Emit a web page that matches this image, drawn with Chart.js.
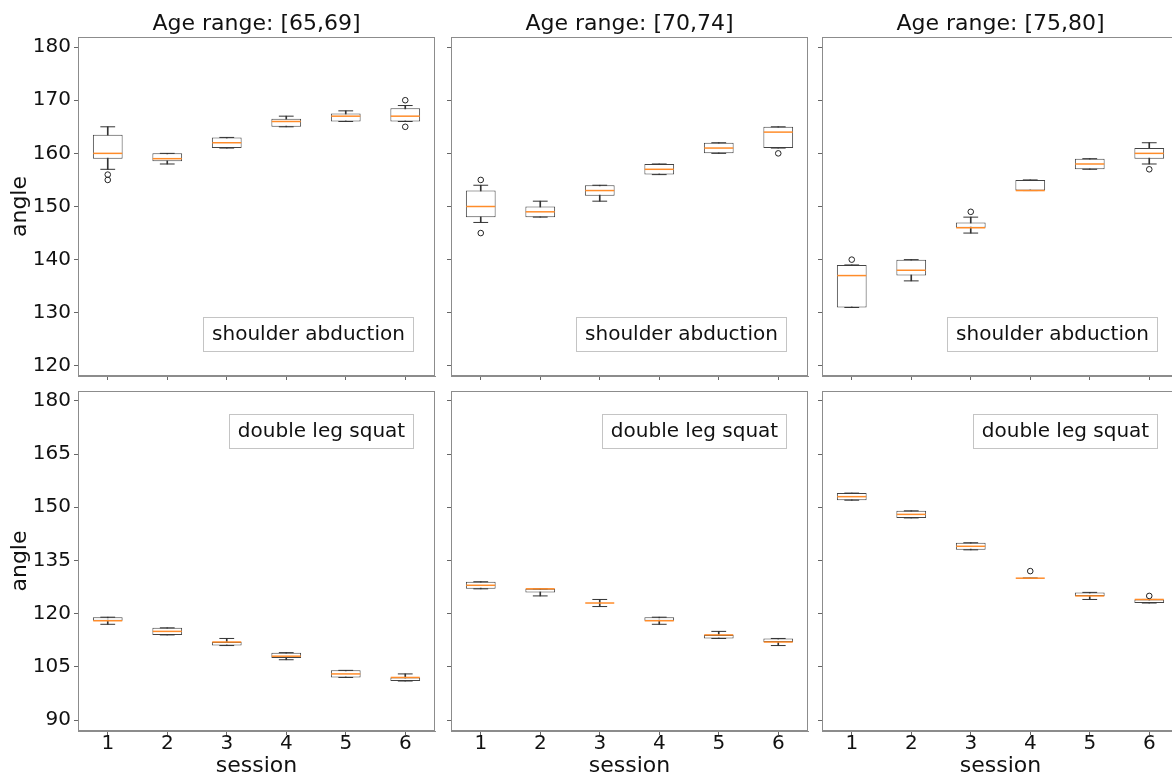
<!DOCTYPE html>
<html>
<head>
<meta charset="utf-8">
<script src="https://cdn.jsdelivr.net/npm/chart.js@4.4.1/dist/chart.umd.min.js"></script>
<style>
html,body{margin:0;padding:0;background:#fff;overflow:hidden;}
#wrap{position:relative;width:1172px;height:778px;overflow:hidden;background:#fff;}
#wrap canvas{position:absolute;}
</style>
</head>
<body>
<div id="wrap"></div>
<script>
// ---------------- data ----------------
const sessions = [1, 2, 3, 4, 5, 6];
const ageRanges = ['[65,69]', '[70,74]', '[75,80]'];
const exercises = ['shoulder abduction', 'double leg squat'];
const yTicksShoulder = [120, 130, 140, 150, 160, 170, 180];
const yTicksSquat = [90, 105, 120, 135, 150, 165, 180];

// shoulder abduction, age 65-69
const sa1Low  = [157, 158, 161, 165, 166, 166];
const sa1Q1   = [159, 158.5, 161, 165, 166, 166];
const sa1Med  = [160, 159, 162, 166, 167, 167];
const sa1Q3   = [163.5, 160, 163, 166.5, 167.5, 168.5];
const sa1High = [165, 160, 163, 167, 168, 169];
const sa1Out  = [[156, 155], [], [], [], [], [170, 165]];

// shoulder abduction, age 70-74
const sa2Low  = [147, 148, 151, 156, 160, 161];
const sa2Q1   = [148, 148, 152, 156, 160, 161];
const sa2Med  = [150, 149, 153, 157, 161, 164];
const sa2Q3   = [153, 150, 154, 158, 162, 165];
const sa2High = [154, 151, 154, 158, 162, 165];
const sa2Out  = [[155, 145], [], [], [], [], [160]];

// shoulder abduction, age 75-80
const sa3Low  = [131, 136, 145, 153, 157, 158];
const sa3Q1   = [131, 137, 146, 153, 157, 159];
const sa3Med  = [137, 138, 146, 153, 158, 160];
const sa3Q3   = [139, 140, 147, 155, 159, 161];
const sa3High = [139, 140, 148, 155, 159, 162];
const sa3Out  = [[140], [], [149], [], [], [157]];

// double leg squat, age 65-69
const dl1Low  = [117, 114, 111, 107, 102, 101];
const dl1Q1   = [118, 114, 111, 107.5, 102, 101];
const dl1Med  = [118, 115, 112, 108, 103, 102];
const dl1Q3   = [119, 116, 112, 109, 104, 102];
const dl1High = [119, 116, 113, 109, 104, 103];
const dl1Out  = [[], [], [], [], [], []];

// double leg squat, age 70-74
const dl2Low  = [127, 125, 122, 117, 113, 111];
const dl2Q1   = [127, 126, 123, 118, 113, 112];
const dl2Med  = [128, 127, 123, 118, 114, 112];
const dl2Q3   = [129, 127, 123, 119, 114, 113];
const dl2High = [129, 127, 124, 119, 115, 113];
const dl2Out  = [[], [], [], [], [], []];

// double leg squat, age 75-80
const dl3Low  = [152, 147, 138, 130, 124, 123];
const dl3Q1   = [152, 147, 138, 130, 125, 123];
const dl3Med  = [153, 148, 139, 130, 125, 124];
const dl3Q3   = [154, 149, 140, 130, 126, 124];
const dl3High = [154, 149, 140, 130, 126, 124];
const dl3Out  = [[], [], [], [132], [], [125]];

const panelData = [
  [sa1Low, sa1Q1, sa1Med, sa1Q3, sa1High, sa1Out],
  [sa2Low, sa2Q1, sa2Med, sa2Q3, sa2High, sa2Out],
  [sa3Low, sa3Q1, sa3Med, sa3Q3, sa3High, sa3Out],
  [dl1Low, dl1Q1, dl1Med, dl1Q3, dl1High, dl1Out],
  [dl2Low, dl2Q1, dl2Med, dl2Q3, dl2High, dl2Out],
  [dl3Low, dl3Q1, dl3Med, dl3Q3, dl3High, dl3Out]
];

// ---------------- layout ----------------
const FONT = "'DejaVu Sans', 'Liberation Sans', sans-serif";
Chart.defaults.font.family = FONT;
const colCanvasLeft = [0, 440, 812];
const colAxisW = [78, 11, 10];
const plotW = 357;
const rowCanvasTop = [0, 385];
const rowPadTop = [11, 6];
const rowTitleH = [26, 0];
const rowPlotH = [339, 340];
const rowXAxisH = [8, 47];
const rowYRange = [[118.1, 181.9], [86.9, 182.8]];

function noPad(s) {
  s.paddingTop = 0; s.paddingBottom = 0; s.paddingLeft = 0; s.paddingRight = 0;
}

const framePlugin = {
  id: 'frame',
  afterDraw(chart, args, opts) {
    const {ctx, chartArea: a} = chart;
    ctx.save();
    ctx.strokeStyle = '#8c8c8c';
    ctx.lineWidth = 1;
    ctx.strokeRect(Math.round(a.left) + 0.5, Math.round(a.top) + 0.5,
                   Math.round(a.right - a.left) - 1, Math.round(a.bottom - a.top) - 1);
    // annotation box
    ctx.font = '20px ' + FONT;
    const tw = ctx.measureText(opts.text).width;
    const bw = Math.round(tw + 17), bh = 34;
    const x1 = Math.round(a.right - 22 - bw);
    const y1 = Math.round(opts.where === 'lower' ? a.bottom - 25 - bh : a.top + 23);
    ctx.fillStyle = '#fff';
    ctx.fillRect(x1, y1, bw, bh);
    ctx.strokeStyle = '#c4c4c4';
    ctx.strokeRect(x1 + 0.5, y1 + 0.5, bw, bh);
    ctx.fillStyle = '#111';
    ctx.textAlign = 'center';
    ctx.textBaseline = 'middle';
    ctx.fillText(opts.text, x1 + bw / 2 + 0.5, y1 + bh / 2 + 0.5);
    ctx.restore();
  }
};

const wrap = document.getElementById('wrap');

function makePanel(row, col) {
  const [lo, q1, med, q3, hi, out] = panelData[row * 3 + col];
  const cw = colAxisW[col] + plotW + 4;
  const ch = rowPadTop[row] + rowTitleH[row] + rowPlotH[row] + rowXAxisH[row];
  const canvas = document.createElement('canvas');
  canvas.width = cw; canvas.height = ch;
  canvas.style.width = cw + 'px'; canvas.style.height = ch + 'px';
  canvas.style.left = colCanvasLeft[col] + 'px';
  canvas.style.top = rowCanvasTop[row] + 'px';
  wrap.appendChild(canvas);

  const yTicks = row === 0 ? yTicksShoulder : yTicksSquat;
  const outPts = [];
  sessions.forEach((s, i) => out[i].forEach(v => outPts.push({x: s, y: v})));
  const capPts = [];
  sessions.forEach((s, i) => { capPts.push({x: s, y: lo[i]}); capPts.push({x: s, y: hi[i]}); });

  new Chart(canvas, {
    type: 'bar',
    data: {
      datasets: [
        {type: 'scatter', label: 'outliers', data: outPts, order: 0,
         pointStyle: 'circle', pointRadius: 2.8, pointHoverRadius: 2.8,
         pointBorderColor: '#222', pointBackgroundColor: 'rgba(0,0,0,0)', pointBorderWidth: 1},
        {type: 'scatter', label: 'median', data: sessions.map((s, i) => ({x: s, y: med[i]})), order: 1,
         pointStyle: 'line', pointRadius: 14.5, pointHoverRadius: 14.5,
         pointBorderColor: '#ff8c2a', pointBorderWidth: 1.5},
        {type: 'scatter', label: 'caps', data: capPts, order: 2,
         pointStyle: 'line', pointRadius: 7.4, pointHoverRadius: 7.4,
         pointBorderColor: '#333', pointBorderWidth: 1},
        {type: 'bar', label: 'box', data: sessions.map((s, i) => ({x: s, y: [q1[i], q3[i]]})), order: 3,
         backgroundColor: '#fff', borderColor: '#444', borderWidth: 1, borderSkipped: false,
         barPercentage: 0.5, categoryPercentage: 1, grouped: false},
        {type: 'bar', label: 'whiskers', data: sessions.map((s, i) => ({x: s, y: [lo[i], hi[i]]})), order: 4,
         backgroundColor: '#333', borderWidth: 0, barThickness: 1, grouped: false}
      ]
    },
    options: {
      responsive: false,
      animation: false,
      devicePixelRatio: 1,
      events: [],
      layout: {autoPadding: false, padding: {top: rowPadTop[row], right: 4, left: 0, bottom: 0}},
      plugins: {
        legend: {display: false},
        tooltip: {enabled: false},
        title: {display: row === 0, text: 'Age range: ' + ageRanges[col], fullSize: false,
                font: {family: FONT, size: 22, weight: 'normal', lineHeight: '26px'}, color: '#111', padding: 0},
        frame: {text: exercises[row], where: row === 0 ? 'lower' : 'upper'}
      },
      scales: {
        x: {
          type: 'linear', min: 0.5, max: 6.5, offset: false,
          afterBuildTicks: s => { s.ticks = sessions.map(v => ({value: v})); },
          afterFit: s => { s.height = rowXAxisH[row]; noPad(s); },
          grid: {display: true, drawOnChartArea: false, drawTicks: true, tickLength: 4, tickColor: '#666', offset: false},
          border: {display: true, color: '#8c8c8c'},
          ticks: {display: row === 1, color: '#111', padding: -1, maxRotation: 0, autoSkip: false,
                  font: {family: FONT, size: 20, lineHeight: 1}},
          title: {display: row === 1, text: 'session', color: '#111',
                  font: {family: FONT, size: 22, lineHeight: 1.2}, padding: {top: 0, bottom: -1}}
        },
        y: {
          type: 'linear', min: rowYRange[row][0], max: rowYRange[row][1],
          afterBuildTicks: s => { s.ticks = yTicks.map(v => ({value: v})); },
          afterFit: s => { s.width = colAxisW[col]; noPad(s); },
          grid: {display: true, drawOnChartArea: false, drawTicks: true, tickLength: 4, tickColor: '#666'},
          border: {display: true, color: '#8c8c8c'},
          ticks: {display: col === 0, color: '#111', padding: 3, autoSkip: false,
                  font: {family: FONT, size: 20, lineHeight: 1}},
          title: {display: col === 0, text: 'angle', color: '#111',
                  font: {family: FONT, size: 22, lineHeight: 1.2}, padding: {top: 7, bottom: 0}}
        }
      }
    },
    plugins: [framePlugin]
  });
}

for (let r = 0; r < 2; r++) for (let c = 0; c < 3; c++) makePanel(r, c);
</script>
</body>
</html>
